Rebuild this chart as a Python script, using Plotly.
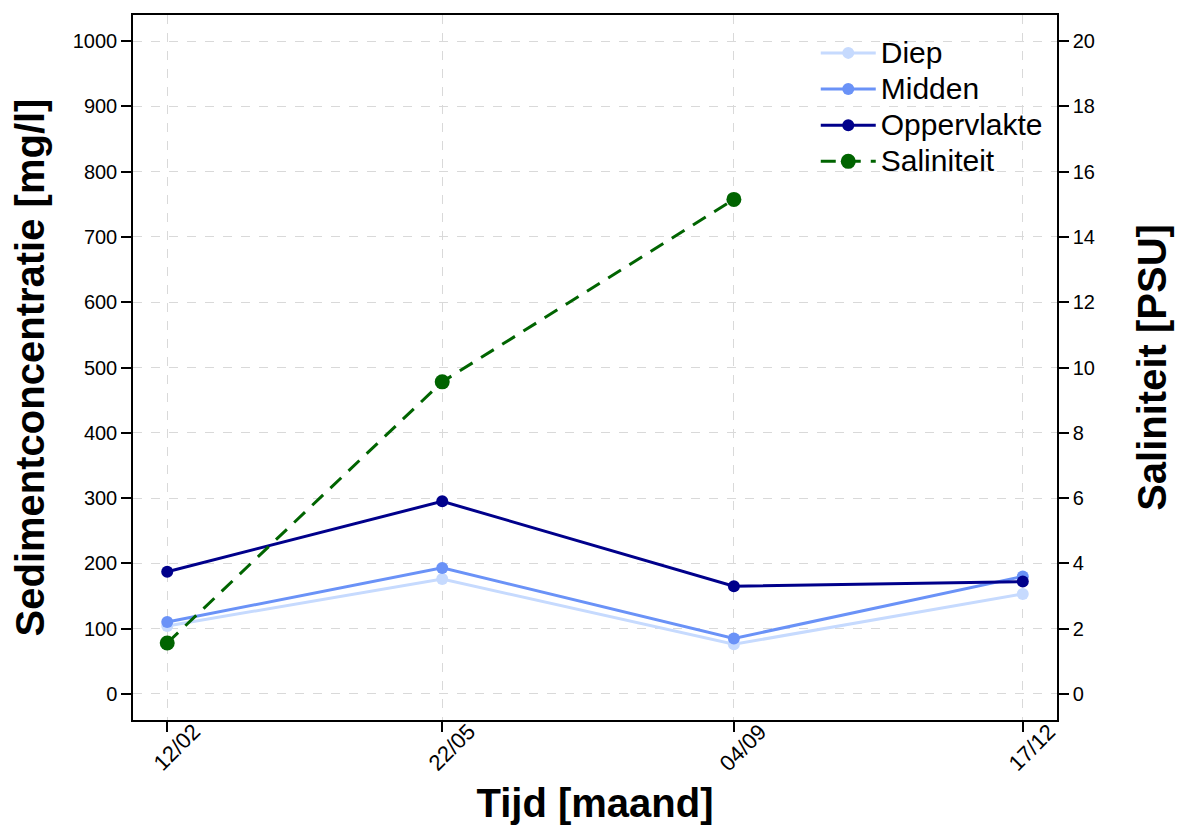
import datetime as dt
import plotly.graph_objects as go

# Sampling dates (day/month) and measured values
dates = ["2019-02-12", "2019-05-22", "2019-09-04", "2019-12-17"]
tick_labels = ["12/02", "22/05", "04/09", "17/12"]

diep = [104, 176, 76, 153]
midden = [110, 193, 85, 180]
oppervlakte = [187, 295, 165, 172]
saliniteit = [1.56, 9.56, 15.15, None]

# x range padded by 4% on each side of the data span
d0 = dt.date.fromisoformat(dates[0])
d1 = dt.date.fromisoformat(dates[-1])
pad = (d1 - d0).days * 0.04
x_lo = dt.datetime.combine(d0, dt.time()) - dt.timedelta(days=pad)
x_hi = dt.datetime.combine(d1, dt.time()) + dt.timedelta(days=pad)

FONT = "Liberation Sans, Arial, sans-serif"


def legend_label(text):
    # larger glyphs than the legend row spacing implies
    return f'<span style="font-size:30px">{text}</span>'


fig = go.Figure()

series = [
    ("Diep", diep, "#c6dafe"),
    ("Midden", midden, "#6a92f7"),
    ("Oppervlakte", oppervlakte, "#00008b"),
]
for name, vals, col in series:
    fig.add_trace(go.Scatter(
        x=dates, y=vals, name=legend_label(name), mode="lines+markers",
        line=dict(color=col, width=3),
        marker=dict(color=col, size=12),
    ))

fig.add_trace(go.Scatter(
    x=dates, y=saliniteit, name=legend_label("Saliniteit"), mode="lines+markers",
    yaxis="y2", connectgaps=False,
    line=dict(color="#006400", width=3, dash="15px,10px"),
    marker=dict(color="#006400", size=15),
))

# Rotated date labels, centred just below and right of each tick
for d, lab in zip(dates, tick_labels):
    fig.add_annotation(
        x=d, y=0, xref="x", yref="paper", text=lab, showarrow=False,
        textangle=-45, xanchor="center", yanchor="middle",
        xshift=9, yshift=-27, font=dict(size=22, family=FONT, color="black"),
    )

grid = dict(showgrid=True, gridcolor="#d9d9d9", griddash="dash", gridwidth=1)
tick_style = dict(tickfont=dict(size=20), ticks="outside", ticklen=10, tickwidth=1.5,
                  tickcolor="black", automargin=False)

fig.update_layout(
    width=1178, height=826,
    margin=dict(l=133, r=121, t=15, b=106),
    paper_bgcolor="white", plot_bgcolor="white",
    font=dict(family=FONT, color="black"),
    showlegend=True,
    legend=dict(
        x=0.99, y=0.979, xanchor="right", yanchor="top",
        bgcolor="rgba(0,0,0,0)", borderwidth=0,
        font=dict(size=25.5, family=FONT),
        itemwidth=55,
    ),
    xaxis=dict(
        type="date", range=[x_lo, x_hi],
        tickvals=dates, showticklabels=False,
        showline=True, linecolor="black", linewidth=1.5, mirror=True,
        zeroline=False,
        title=dict(text="<b>Tijd [maand]</b>", font=dict(size=40), standoff=58),
        **tick_style, **grid,
    ),
    yaxis=dict(
        range=[-40, 1040], tickvals=list(range(0, 1001, 100)),
        showline=True, linecolor="black", linewidth=1.5, mirror=True,
        zeroline=False,
        title=dict(text="<b>Sedimentconcentratie [mg/l]</b>", font=dict(size=40), standoff=16),
        **tick_style, **grid,
    ),
    yaxis2=dict(
        overlaying="y", side="right",
        range=[-0.8, 20.8], tickvals=list(range(0, 21, 2)),
        showline=True, linecolor="black", linewidth=1.5,
        showgrid=False, zeroline=False,
        title=dict(text="<b>Saliniteit [PSU]</b>", font=dict(size=40), standoff=44),
        **tick_style,
    ),
)

fig.write_html("out.html")
